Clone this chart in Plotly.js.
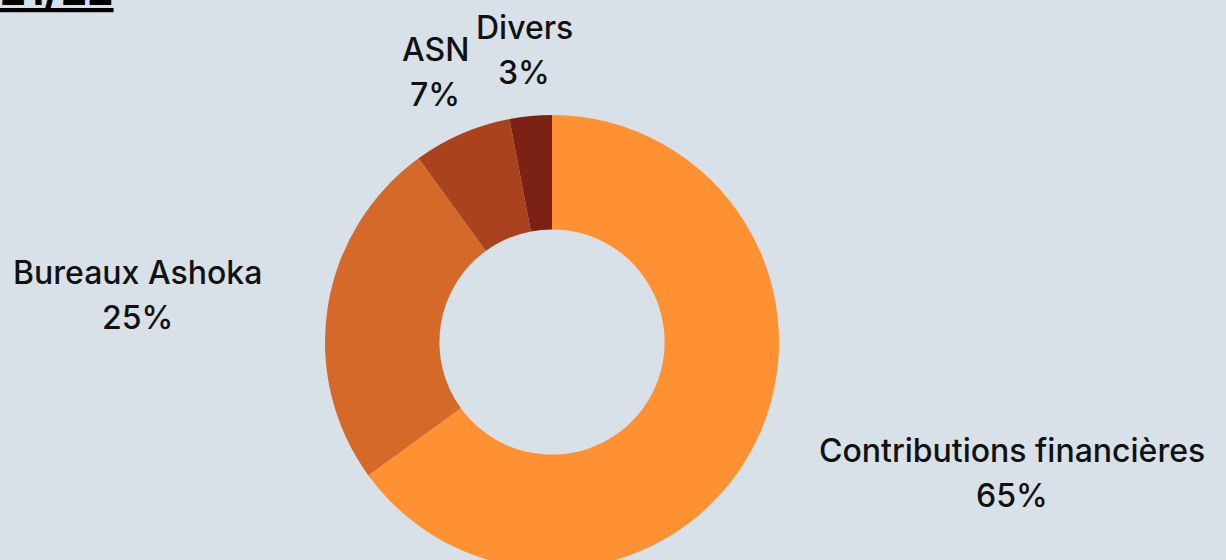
<!DOCTYPE html>
<html>
<head>
<meta charset="utf-8">
<script src="https://cdn.plot.ly/plotly-3.0.1.min.js"></script>
<style>
html,body{margin:0;padding:0;overflow:hidden;background:#d9e1e8;}
#chart{width:1226px;height:600px;}
</style>
</head>
<body>
<div id="chart"></div>
<script>
const labels = ["Contributions financières", "Bureaux Ashoka", "ASN", "Divers"];
const values = [65, 25, 7, 3];
const colors = ["#ff9133", "#d5692a", "#aa421e", "#7c2215"];
const titleText = "2021/22";

// label placement (paper coords) — layout only
const labelPos = [
  {x: 1012, y: 450},
  {x: 137, y: 272},
  {x: 435, y: 49},
  {x: 524, y: 27}
];
const H = 600, W = 1226, lineGap = 45;
const font = {family: "Inter, Lato, sans-serif", size: 32, color: "#111111", weight: 500};

const total = values.reduce((a, b) => a + b, 0);
const annotations = [];
labels.forEach((lab, i) => {
  const p = labelPos[i];
  annotations.push({xref: "paper", yref: "paper", x: p.x / W, y: 1 - p.y / H, xanchor: "center", yanchor: "middle",
    text: lab, showarrow: false, font: font});
  annotations.push({xref: "paper", yref: "paper", x: p.x / W, y: 1 - (p.y + lineGap) / H, xanchor: "center", yanchor: "middle",
    text: Math.round(values[i] / total * 100) + "%", showarrow: false, font: font});
});
annotations.push({xref: "paper", yref: "paper", x: 116 / W, y: 1 - 17 / H, xanchor: "right", yanchor: "bottom",
  text: "<b><u>" + titleText + "</u></b>", showarrow: false,
  font: {family: "Inter, Lato, sans-serif", size: 42, color: "#000000"}});

const cx = 552, cy = 342, r = 227;
const data = [{
  type: "pie",
  labels: labels,
  values: values,
  marker: {colors: colors, line: {width: 0}},
  hole: 0.496,
  sort: false,
  direction: "clockwise",
  rotation: 0,
  textinfo: "none",
  hoverinfo: "label+percent",
  domain: {x: [(cx - r) / W, (cx + r) / W], y: [(H - cy - r) / H, (H - cy + r) / H]}
}];

const layout = {
  width: W, height: H,
  margin: {l: 0, r: 0, t: 0, b: 0},
  paper_bgcolor: "#d9e1e8",
  plot_bgcolor: "#d9e1e8",
  showlegend: false,
  annotations: annotations
};

Plotly.newPlot("chart", data, layout, {displayModeBar: false, staticPlot: true});
</script>
</body>
</html>
